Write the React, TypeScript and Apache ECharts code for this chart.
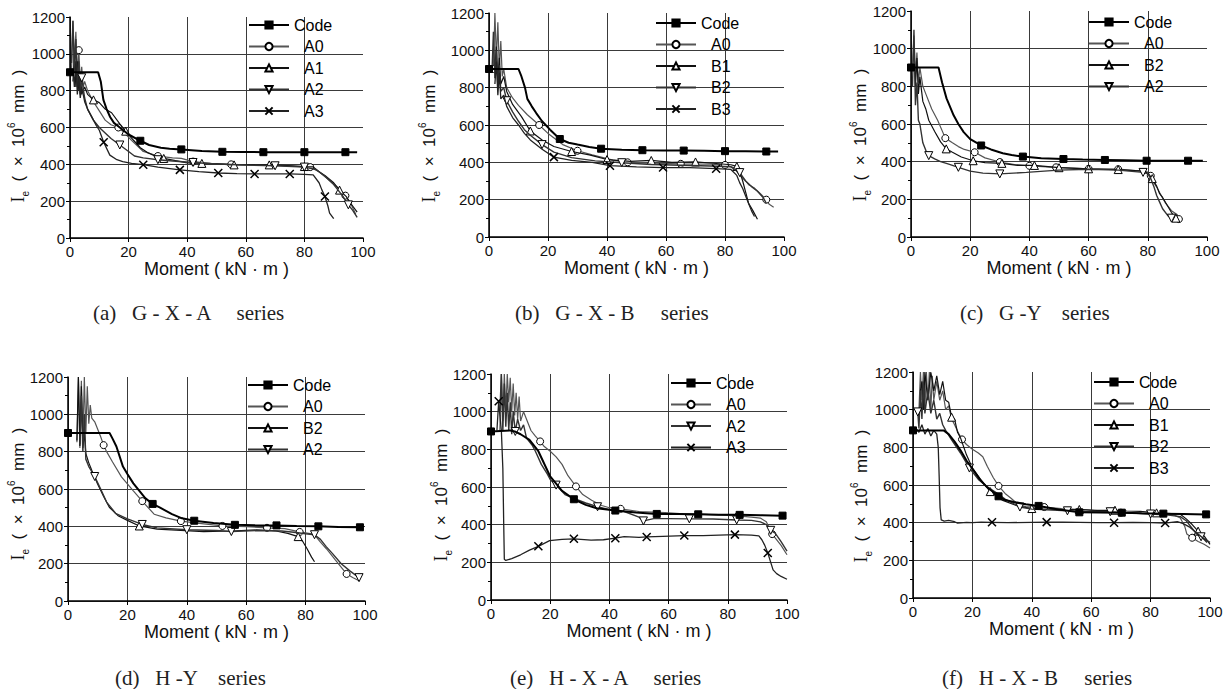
import React, { useEffect, useRef } from 'react';
import * as echarts from 'echarts';

// ---------- data: [moment kN·m, Ie ×10^6 mm^4] ----------
const xTickLabels = ['0', '20', '40', '60', '80', '100'];
const yTickLabels = ['0', '200', '400', '600', '800', '1000', '1200'];

const captions = ['(a)   G - X - A     series', '(b)   G - X - B     series', '(c)   G -Y    series', '(d)   H -Y    series', '(e)   H - X - A     series', '(f)   H - X - B     series'];

// (a) G-X-A
const aCode = [[0,900],[9.6,900],[10.5,850],[11.4,750],[12.5,700],[13.7,657],[15,625],[17,600],[20,562],[24,528],[27,505],[31,490],[34,485],[38,481],[45,472],[52,468],[59,467],[66,466],[73,466],[80,466],[87,466],[94,466],[98,465]];
const aA0 = [[0.5,900],[1,1180],[1.5,950],[2,1120],[2.5,880],[3,1020],[3.5,850],[4,930],[4.5,820],[5,850],[6,800],[8,740],[10,690],[12,640],[14,615],[16.5,600],[18,580],[21,530],[25,470],[30,445],[35,435],[38,432],[42,415],[48,405],[55,400],[65,395],[75,392],[82,385],[85,360],[88,320],[91,280],[94,230],[96,180],[97.5,130]];
const aA1 = [[1,850],[1.5,1000],[2,820],[2.5,960],[3,800],[3.5,900],[4,780],[5,820],[6,780],[8,750],[10,735],[12,700],[14.2,680],[17,620],[19,580],[21.6,532],[24,490],[26.7,462],[29,445],[32,432],[36,420],[40,408],[45,405],[50,403],[56,397],[62,398],[68,397],[74,393],[80,388],[83,386],[85,360],[87,340],[90,300],[92,260],[94.3,225],[95.5,195],[96.6,171],[98,140]];
const aA2 = [[0.5,950],[1,1180],[1.5,900],[2,1080],[2.5,820],[3,960],[3.5,780],[4,870],[5,760],[6,700],[8,640],[10,600],[12,570],[14,540],[17,505],[20,470],[22,445],[25,435],[30,425],[35,418],[42,410],[50,402],[60,396],[70,392],[80,385],[84,372],[87,335],[90,290],[93,230],[95,180],[96.5,150],[98,112]];
const aA3 = [[1,920],[1.5,820],[2,960],[2.5,780],[3,880],[3.5,760],[4,820],[5,740],[6,700],[8,640],[9,610],[10,585],[11.5,520],[13.6,450],[16,425],[18,415],[21,405],[25,398],[30,385],[37.5,370],[44,360],[50.6,353],[57,350],[63,348],[69,348],[75,348],[80,346],[83,343],[85,300],[86,260],[87,225],[88,175],[88.6,135],[90,105]];

// (b) G-X-B
const bCode = [[0,900],[10,900],[11,860],[12.2,800],[13,740],[14.5,700],[16,664],[18,620],[20.7,575],[24,525],[27,505],[30,495],[34,482],[38,473],[45,468],[52,465],[59,464],[66,463],[73,462],[80,460],[87,459],[94,458],[98,458]];
const bA0 = [[1.5,900],[2,1200],[2.5,950],[3,1150],[3.5,900],[4,1050],[4.5,860],[5,900],[6,800],[8,745],[10,705],[13,655],[17,600],[20,555],[25,495],[30,462],[35,440],[38,428],[42,412],[47,400],[55,396],[65,392],[75,390],[80,386],[83,372],[85,330],[87,300],[88,280],[90,262],[92,232],[94,200],[95,175],[96.5,160]];
const bB1 = [[2,900],[2.5,1020],[3,850],[3.5,960],[4,820],[5,860],[6,780],[8,710],[11,645],[14,568],[18,520],[22,485],[28,458],[34,440],[40,415],[48,405],[55,410],[62,400],[70,402],[76,395],[82,387],[84,378],[85,350],[86,300],[87,240],[88,180],[89.5,140],[91,95]];
const bB2 = [[1,880],[1.5,1100],[2,850],[2.5,1000],[3,800],[3.5,920],[4,780],[5,800],[6,730],[8,670],[10,620],[12,575],[14,545],[18,495],[22,455],[28,425],[36,408],[45,398],[55,388],[65,384],[75,380],[82,376],[85,345],[87,300],[89,270],[91,245],[93,210],[94,180]];
const bB3 = [[2,820],[2.5,940],[3,760],[3.5,880],[4,740],[5,760],[6,700],[8,640],[10,600],[12,555],[14,520],[18,470],[22,428],[28,410],[35,400],[41,382],[50,376],[59,372],[68,372],[77,366],[82,362],[84,330],[85,290],[86,260],[87,220],[88,180],[89,140],[90,110]];

// (c) G-Y
const cCode = [[0,900],[9.3,900],[10.5,820],[12,736],[14.4,646],[16,600],[17.8,557],[20,520],[23.7,486],[27,465],[31,445],[34,435],[37.8,427],[44,418],[51.5,414],[58,411],[65.5,409],[72,407],[79.6,405],[86,405],[93.6,405],[98.6,405]];
const cA0 = [[0.5,900],[1,1070],[1.5,850],[2,980],[2.5,820],[3,900],[4,800],[5,760],[7,680],[9,620],[11.6,525],[14,500],[16,480],[18,465],[21.5,450],[25,420],[30,398],[35,385],[40,378],[49,370],[60,362],[70,360],[76,352],[78.2,352],[80,345],[81,325],[82,290],[83,265],[84.6,218],[86,180],[88,140],[89.9,120],[90.5,95]];
const cB2 = [[1,1000],[1.5,800],[2,950],[2.5,760],[3,850],[4,720],[5,680],[6,620],[8,560],[10,505],[11.9,468],[14,450],[17,425],[21,405],[25,395],[30.7,391],[36,380],[41.7,380],[50,368],[60,362],[70,358],[78,350],[80,340],[81.5,310],[83,270],[84,230],[85,210],[86.5,170],[88,130],[89.5,100]];
const cA2 = [[0.5,800],[1,1100],[1.5,700],[2,820],[2.5,620],[3,600],[4,500],[5,460],[6,432],[8,415],[10,400],[12.5,388],[16,370],[20,350],[24.3,339],[30,335],[39,343],[45,350],[50,355],[60,360],[70,355],[78.4,343],[80,335],[81,310],[82,270],[83,220],[84,185],[85,150],[86.9,111],[88,100]];

// (d) H-Y
const dCode = [[0,900],[14,900],[15,870],[16.3,828],[18.5,720],[20,680],[22,630],[26,551],[28.5,520],[31,500],[35,465],[38,445],[42.5,430],[49,418],[56.2,408],[63,406],[70.2,405],[77,402],[84.3,400],[91,397],[98.3,395]];
const dA0 = [[3,850],[3.5,1200],[4,820],[4.5,1180],[5,850],[5.5,1200],[6,900],[6.5,1150],[7,950],[7.5,1050],[8,980],[9,960],[10,920],[11,880],[12,835],[13,800],[15,745],[18,665],[22,590],[25,535],[29,465],[33,445],[38,428],[45,415],[52,402],[60,398],[67,392],[73,388],[78,370],[82,360],[83.5,345],[85,315],[87,280],[90,220],[93.8,145],[96,125],[98,108]];
const dB2 = [[3,860],[3.5,1200],[4,830],[4.5,1150],[5,820],[5.5,900],[6,790],[7,740],[8,700],[10,625],[12,560],[14,500],[17,455],[20,432],[24,402],[30,385],[38,378],[45.7,372],[55,375],[63.5,381],[70,375],[74,362],[77.5,345],[79,320],[80.5,280],[82,235],[83,210]];
const dA2 = [[4,840],[4.5,1100],[5,800],[5.5,1000],[6,760],[7,720],[9,667],[11,600],[13,530],[16,470],[20,440],[25,410],[30,392],[40,382],[50,378],[55,372],[65,378],[72,375],[76,368],[80,360],[83,355],[85,330],[87,290],[89,255],[92,200],[95,160],[98,125]];

// (e) H-X-A
const eCode = [[0,895],[6.5,900],[8,895],[10,880],[13,850],[16,790],[20,656],[24,580],[28,535],[32,505],[35.7,487],[42,475],[49,465],[56,457],[63,456],[70,455],[77,453],[84,452],[91,450],[98.5,448]];
const eA0 = [[3,900],[3.5,1200],[4,950],[4.5,1200],[5,1000],[5.5,1200],[6,1050],[6.5,1180],[7,1000],[7.5,1150],[8,980],[8.5,1100],[9,960],[9.5,1080],[10,950],[11,1000],[12,960],[13.5,900],[15,870],[16.6,842],[18,815],[20,790],[22,760],[24,720],[26,660],[28.7,603],[31,560],[34,530],[37.4,502],[40,490],[43.8,484],[50,470],[58.8,464],[65,458],[72.2,455],[78,450],[83.5,447],[88,440],[91,435],[93,415],[95,350],[96,330],[98,290],[100,240]];
const eA2 = [[3,1000],[3.5,1200],[4,900],[4.5,1150],[5,920],[5.5,1100],[6,900],[6.5,1050],[7,880],[7.5,1000],[8.2,895],[9,960],[10,900],[11,930],[12,860],[14,820],[15,790],[17,720],[19,670],[20,640],[22,610],[25,560],[28,540],[32,515],[36,495],[40,480],[45,470],[50,440],[51.5,420],[55,432],[60,432],[67,431],[75,430],[83,425],[88,423],[91,415],[93,400],[94.5,370],[96,355],[98,310],[100,260]];
const eA3 = [[2,900],[2.6,1055],[3,980],[3.5,900],[4,700],[4.3,400],[4.5,216],[5,210],[7,220],[10,240],[13,265],[16,285],[19.8,315],[24,322],[28,325],[33.8,318],[38,320],[42,328],[45,337],[50,333],[52.6,335],[58,338],[65.3,342],[71.7,342],[77,345],[82.4,347],[88,345],[90.5,340],[91.5,320],[92.5,290],[93.5,250],[94.5,200],[95.3,160],[96.5,140],[98,125],[100,110]];

// (f) H-X-B
const fCode = [[0,890],[10.3,890],[12,870],[14,830],[16,784],[18,730],[20.4,678],[22.5,630],[24.9,589],[28.8,540],[31,520],[33.9,510],[38,498],[42.3,489],[49,470],[56,455],[63,454],[70.3,453],[77,450],[84.3,448],[91,446],[98.7,444]];
const fA0 = [[2,1000],[2.5,1200],[3,1050],[3.5,1200],[4,1000],[4.5,1200],[5,1050],[5.5,1200],[6,1000],[6.5,1180],[7,1050],[8,1150],[9,1050],[10,1100],[11,1000],[12,1020],[13,950],[14,920],[15.5,870],[16.5,842],[18,815],[20,790],[22,770],[23.5,750],[25,700],[27,640],[28.8,595],[31,555],[33,530],[35.5,495],[38,485],[44.2,483],[50,475],[58.5,468],[65,458],[70,453],[78,448],[85,445],[88,440],[90,425],[91.5,380],[92.2,340],[94,320],[96,300],[98,285],[100,265]];
const fB1 = [[2.5,1100],[3,1150],[3.5,1000],[4,1200],[5,1050],[6,1200],[7,1100],[8,1180],[9,1080],[10,1150],[11,1050],[12,1040],[13,960],[14,950],[15,880],[16,850],[18,760],[20,690],[23,625],[26,565],[30,520],[35,490],[40,475],[48,470],[56,470],[62,465],[68,466],[72,462],[76.5,460],[82,452],[87,448],[90,445],[92,420],[94,390],[96,355],[98,330],[100,285]];
const fB2 = [[1.6,988],[2,900],[2.5,1100],[3,950],[3.5,1150],[4,980],[5,1100],[6,980],[7,1050],[8,950],[9,980],[10,920],[11,890],[13,840],[16,770],[19,690],[22,630],[25,590],[28,560],[31,525],[36,483],[40,472],[45,468],[52,463],[58,460],[66.4,458],[72,452],[80,446],[86,440],[90,432],[92,410],[94,370],[95.5,340],[97,325],[99,305],[100,295]];
const fB3 = [[1,900],[2,880],[3,920],[4,870],[5,900],[6,860],[7,890],[8,870],[8.5,800],[8.8,650],[9.1,480],[9.5,415],[10.5,408],[12,412],[14,405],[15,398],[18,402],[20,400],[23,403],[26.6,402],[32,400],[40,402],[45,403],[50.4,403],[56,402],[62,400],[67.7,400],[74,402],[80,400],[84.9,398],[89,405],[91,395],[93,378],[94.4,360],[96,340],[97.5,320],[99,295]];

// ---------- styling / layout ----------
type Kind = 'code' | 'circle' | 'tri' | 'inv' | 'cross';
const SYM: Record<Kind, any> = {
  code: { symbol: 'rect', rotate: 0, size: 7, fill: '#000', line: '#000', lw: 2 },
  circle: { symbol: 'circle', rotate: 0, size: 7, fill: '#fff', line: '#555', lw: 1.2 },
  tri: { symbol: 'triangle', rotate: 0, size: 8, fill: '#fff', line: '#111', lw: 1.2 },
  inv: { symbol: 'triangle', rotate: 180, size: 8, fill: '#fff', line: '#333', lw: 1.4 },
  cross: { symbol: 'path://M0,0L10,10M10,0L0,10', rotate: 0, size: 8, fill: '#000', line: '#222', lw: 1.3 },
};

interface SeriesCfg { label: string; data: number[][]; kind: Kind; first: number; step: number; }
interface PanelCfg { grid: any; legend: { left: number; top: number }; xGap: number; yName: { x: number; y: number }; cap: { x: number; y: number }; series: SeriesCfg[]; }

const panels: PanelCfg[] = [
  { grid: { left: 70, top: 17, width: 293, height: 221 }, legend: { left: 248, top: 17 }, xGap: 20, yName: { x: 18, y: 136 }, cap: { x: 93, y: 313 },
    series: [
      { label: 'Code', data: aCode, kind: 'code', first: 24, step: 14 },
      { label: 'A0', data: aA0, kind: 'circle', first: 3, step: 13 },
      { label: 'A1', data: aA1, kind: 'tri', first: 8, step: 12 },
      { label: 'A2', data: aA2, kind: 'inv', first: 4, step: 13 },
      { label: 'A3', data: aA3, kind: 'cross', first: 12, step: 12.5 },
    ] },
  { grid: { left: 489, top: 13, width: 295, height: 224 }, legend: { left: 655, top: 15 }, xGap: 14, yName: { x: 429, y: 136 }, cap: { x: 515, y: 313 },
    series: [
      { label: 'Code', data: bCode, kind: 'code', first: 24, step: 14 },
      { label: 'A0', data: bA0, kind: 'circle', first: 1.5, step: 15.5 },
      { label: 'B1', data: bB1, kind: 'tri', first: 14, step: 14 },
      { label: 'B2', data: bB2, kind: 'inv', first: 6, step: 13 },
      { label: 'B3', data: bB3, kind: 'cross', first: 22, step: 18.5 },
    ] },
  { grid: { left: 911, top: 11, width: 296, height: 226 }, legend: { left: 1088, top: 14 }, xGap: 16, yName: { x: 860, y: 135 }, cap: { x: 960, y: 313 },
    series: [
      { label: 'Code', data: cCode, kind: 'code', first: 23.7, step: 14 },
      { label: 'A0', data: cA0, kind: 'circle', first: 11.5, step: 10 },
      { label: 'B2', data: cB2, kind: 'tri', first: 12, step: 10 },
      { label: 'A2', data: cA2, kind: 'inv', first: 6, step: 12 },
    ] },
  { grid: { left: 68, top: 377, width: 297, height: 224 }, legend: { left: 247, top: 377 }, xGap: 19, yName: { x: 18, y: 494 }, cap: { x: 115, y: 678 },
    series: [
      { label: 'Code', data: dCode, kind: 'code', first: 28.5, step: 14 },
      { label: 'A0', data: dA0, kind: 'circle', first: 12, step: 13.5 },
      { label: 'B2', data: dB2, kind: 'tri', first: 24, step: 18 },
      { label: 'A2', data: dA2, kind: 'inv', first: 9, step: 15 },
    ] },
  { grid: { left: 491, top: 374, width: 296, height: 226 }, legend: { left: 670, top: 375 }, xGap: 18, yName: { x: 441, y: 495 }, cap: { x: 510, y: 678 },
    series: [
      { label: 'Code', data: eCode, kind: 'code', first: 28, step: 14 },
      { label: 'A0', data: eA0, kind: 'circle', first: 16.6, step: 13 },
      { label: 'A2', data: eA2, kind: 'inv', first: 8.2, step: 14.5 },
      { label: 'A3', data: eA3, kind: 'cross', first: 2.6, step: 13 },
    ] },
  { grid: { left: 913, top: 372, width: 297, height: 226 }, legend: { left: 1093, top: 374 }, xGap: 13, yName: { x: 861, y: 496 }, cap: { x: 942, y: 678 },
    series: [
      { label: 'Code', data: fCode, kind: 'code', first: 28.8, step: 14 },
      { label: 'A0', data: fA0, kind: 'circle', first: 16.5, step: 13 },
      { label: 'B1', data: fB1, kind: 'tri', first: 13, step: 14 },
      { label: 'B2', data: fB2, kind: 'inv', first: 1.6, step: 16 },
      { label: 'B3', data: fB3, kind: 'cross', first: 26.6, step: 19.5 },
    ] },
];

function withMarks(pts: number[][], first: number, step: number, isCode: boolean) {
  const marks = new Set<number>();
  if (isCode) marks.add(0);
  for (let t = first; t <= 100.5; t += step) {
    let best = -1;
    let bd = Infinity;
    pts.forEach((p, i) => {
      const d = Math.abs(p[0] - t);
      if (d < bd) { bd = d; best = i; }
    });
    if (best >= 0 && bd <= 2.5) marks.add(best);
  }
  return pts.map((p, i) => (marks.has(i) ? { value: p } : { value: p, symbol: 'none' }));
}

const FONT = 'Liberation Sans, Arial, sans-serif';
const SERIF = '"Liberation Serif", "Times New Roman", serif';
const ids = ['a', 'b', 'c', 'd', 'e', 'f'];

function buildOption() {
  const grid: any[] = [];
  const xAxis: any[] = [];
  const yAxis: any[] = [];
  const legend: any[] = [];
  const series: any[] = [];
  const graphic: any[] = [];

  panels.forEach((p, gi) => {
    grid.push({ ...p.grid });
    xAxis.push({
      type: 'value', gridIndex: gi, min: 0, max: 100, interval: 20,
      name: 'Moment ( kN · m )', nameLocation: 'middle', nameGap: p.xGap,
      nameTextStyle: { fontSize: 18, fontFamily: FONT, color: '#111' },
      axisLine: { show: true, onZero: false, lineStyle: { color: '#000', width: 1.5 } },
      axisTick: { show: true, length: 4, lineStyle: { color: '#000' } },
      axisLabel: { fontSize: 15, fontFamily: FONT, color: '#111', margin: 6, formatter: (v: number) => xTickLabels[Math.round(v / 20)] ?? '' },
      splitLine: { show: true, showMaxLine: false, lineStyle: { color: '#3a3a3a', width: 1 } },
    });
    yAxis.push({
      type: 'value', gridIndex: gi, min: 0, max: 1200, interval: 200,
      axisLine: { show: true, onZero: false, lineStyle: { color: '#000', width: 1.5 } },
      axisTick: { show: true, length: 4, lineStyle: { color: '#000' } },
      minorTick: { show: true, splitNumber: 2, length: 3, lineStyle: { color: '#000' } },
      axisLabel: { fontSize: 15, fontFamily: FONT, color: '#111', margin: 5, formatter: (v: number) => yTickLabels[Math.round(v / 200)] ?? '' },
      splitLine: { show: true, showMaxLine: false, lineStyle: { color: '#3a3a3a', width: 1 } },
    });
    const names: string[] = [];
    p.series.forEach((s, si) => {
      const st = SYM[s.kind];
      const name = ids[gi] + ':' + s.label;
      names.push(name);
      series.push({
        type: 'line', name, xAxisIndex: gi, yAxisIndex: gi,
        data: withMarks(s.data, s.first, s.step, s.kind === 'code'),
        symbol: st.symbol, symbolSize: st.size, symbolRotate: st.rotate, symbolKeepAspect: true,
        showSymbol: true, smooth: false, z: s.kind === 'code' ? 5 : 3 + si * 0.1,
        lineStyle: { color: st.line, width: st.lw },
        itemStyle: { color: st.fill, borderColor: '#000', borderWidth: s.kind === 'cross' ? 1.5 : 1 },
        emphasis: { disabled: true },
      });
    });
    legend.push({
      data: names, orient: 'vertical', left: p.legend.left, top: p.legend.top,
      itemWidth: 40, itemHeight: 9, itemGap: 5.5, padding: 0, selectedMode: false,
      formatter: (n: string) => {
        const lab = n.split(':')[1];
        return lab === 'Code' ? lab : '{p|' + lab + '}';
      },
      textStyle: { fontSize: 16, fontFamily: FONT, color: '#000', rich: { p: { fontSize: 16, fontFamily: FONT, color: '#000', padding: [0, 0, 0, 10] } } },
    });
    graphic.push({
      type: 'text', x: p.yName.x, y: p.yName.y, rotation: Math.PI / 2,
      style: {
        text: '{i|I}{e|e}  (  ×  10{s|6}  mm  )',
        font: '17px ' + FONT, fill: '#111', align: 'center', verticalAlign: 'middle',
        rich: {
          i: { fontSize: 18, fontFamily: SERIF, fill: '#111', lineHeight: 20 },
          e: { fontSize: 10, fontFamily: FONT, fill: '#111', verticalAlign: 'bottom', lineHeight: 16 },
          s: { fontSize: 10, fontFamily: FONT, fill: '#111', verticalAlign: 'top', lineHeight: 24 },
        },
      },
    });
    graphic.push({
      type: 'text', x: p.cap.x, y: p.cap.y,
      style: { text: captions[gi], font: '21px ' + SERIF, fill: '#222', align: 'left', verticalAlign: 'middle' },
    });
  });

  return { animation: false, backgroundColor: '#fff', grid, xAxis, yAxis, legend, series, graphic };
}

export default function App() {
  const ref = useRef<HTMLDivElement>(null);
  useEffect(() => {
    if (!ref.current) return;
    const chart = echarts.init(ref.current, null, { renderer: 'svg' });
    chart.setOption(buildOption() as any);
    return () => chart.dispose();
  }, []);
  return <div ref={ref} style={{ position: 'absolute', left: 0, top: 0, width: 1229, height: 689, background: '#fff' }} />;
}
